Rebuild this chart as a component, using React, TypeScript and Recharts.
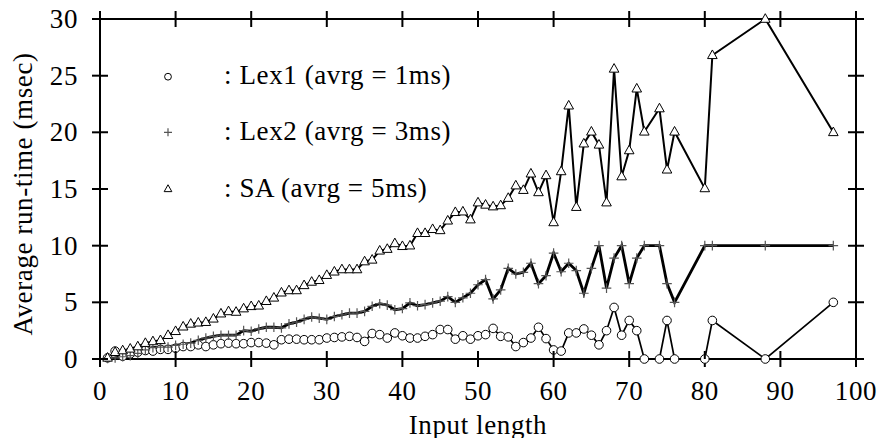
import React from 'react';
import { LineChart, Line, XAxis, YAxis, Label, ReferenceLine } from 'recharts';

const inputLength = [
  1, 2, 3, 4, 5, 6, 7, 8, 9, 10, 11, 12, 13, 14, 15, 16, 17, 18, 19, 20,
  21, 22, 23, 24, 25, 26, 27, 28, 29, 30, 31, 32, 33, 34, 35, 36, 37, 38, 39, 40,
  41, 42, 43, 44, 45, 46, 47, 48, 49, 50, 51, 52, 53, 54, 55, 56, 57, 58, 59, 60,
  61, 62, 63, 64, 65, 66, 67, 68, 69, 70, 71, 72, 74, 75, 76, 80, 81, 88, 97,
];

const lex1 = [
  0.1, 0.7, 0.25, 0.45, 0.6, 0.75, 0.7, 0.85, 0.85, 0.95, 1.1, 1.1, 1.25, 1.1, 1.25, 1.35, 1.4, 1.35, 1.35, 1.45,
  1.45, 1.4, 1.25, 1.7, 1.75, 1.75, 1.7, 1.7, 1.7, 1.85, 1.9, 1.95, 2.0, 1.9, 1.55, 2.25, 2.15, 1.85, 2.3, 2.05,
  1.85, 1.85, 2.0, 2.15, 2.6, 2.6, 1.75, 2.05, 1.75, 2.05, 2.15, 2.7, 2.0, 1.95, 1.1, 1.45, 1.85, 2.8, 1.8, 0.8,
  0.7, 2.3, 2.3, 2.65, 2.1, 1.25, 2.5, 4.55, 2.1, 3.4, 2.5, 0, 0, 3.4, 0, 0, 3.4, 0, 5,
];

const lex2 = [
  0.05, 0.1, 0.2, 0.3, 0.5, 0.8, 1.0, 1.05, 1.05, 1.2, 1.3, 1.4, 1.65, 1.85, 2.0, 2.1, 2.1, 2.1, 2.5, 2.45,
  2.65, 2.8, 2.8, 2.75, 3.1, 3.25, 3.5, 3.7, 3.6, 3.5, 3.75, 3.9, 4.05, 4.05, 4.2, 4.65, 4.88, 4.75, 4.35, 4.45,
  4.95, 4.7, 4.8, 4.95, 5.1, 5.5, 5.0, 5.4, 5.8, 6.55, 7.0, 5.3, 6.1, 8.0, 7.5, 7.65, 8.45, 6.65, 7.35, 9.35,
  7.7, 8.45, 7.8, 5.8, 8.0, 10, 6.25, 8.9, 10, 6.65, 8.9, 10, 10, 6.65, 5.0, 10, 10, 10, 10,
];

const sa = [
  0.1, 0.6, 0.75, 0.9, 1.1, 1.4, 1.55, 1.65, 2.1, 2.45, 2.85, 3.1, 3.2, 3.25, 3.55, 4.0, 4.2, 4.15, 4.45, 4.65,
  4.7, 5.1, 5.4, 5.85, 6.05, 6.05, 6.5, 6.8, 6.95, 7.4, 7.7, 7.9, 7.9, 7.9, 8.6, 8.75, 9.55, 9.7, 10.2, 9.95,
  10.0, 11.1, 11.1, 11.45, 11.35, 12.2, 12.95, 13.0, 12.3, 13.8, 13.6, 13.45, 13.55, 14.2, 15.3, 14.9, 16.35, 14.7, 16.2, 12.05,
  16.55, 22.35, 13.4, 19.0, 20.05, 18.9, 13.8, 25.6, 16.1, 18.4, 23.85, 20.05, 22.1, 16.7, 20.05, 15.05, 26.8, 30, 20,
];

const xTicks = [0, 10, 20, 30, 40, 50, 60, 70, 80, 90, 100];
const yTicks = [0, 5, 10, 15, 20, 25, 30];
const xMax = 100;
const yMax = 30;

const legendLabels = [': Lex1 (avrg = 1ms)', ': Lex2 (avrg = 3ms)', ': SA (avrg = 5ms)'];

const data = inputLength.map((x, i) => ({ x, lex1: lex1[i], lex2: lex2[i], sa: sa[i] }));

const W = 877;
const H = 438;
const MARGIN = { top: 19, right: 21, left: 40, bottom: 0 };
const Y_AXIS_W = 60;
const X_AXIS_H = 79;
const PLOT_W = W - MARGIN.left - MARGIN.right - Y_AXIS_W;
const PLOT_H = H - MARGIN.top - MARGIN.bottom - X_AXIS_H;

const FONT = '"Liberation Serif", "DejaVu Serif", serif';
const FS = 27;
const LS = 0.6;
const TICK = 8;

const CircleMark = ({ cx, cy, r = 4.3 }: any) => (
  <circle cx={cx} cy={cy} r={r} fill="#fff" stroke="#000" strokeWidth={1} />
);
const PlusMark = ({ cx, cy, s = 4.8 }: any) => (
  <path d={`M${cx - s},${cy}H${cx + s}M${cx},${cy - s}V${cy + s}`} stroke="#555" strokeWidth={1.2} fill="none" />
);
const TriMark = ({ cx, cy, s = 1 }: any) => (
  <polygon
    points={`${cx},${cy - 5.3 * s} ${cx - 4.8 * s},${cy + 3.3 * s} ${cx + 4.8 * s},${cy + 3.3 * s}`}
    fill="#fff"
    stroke="#000"
    strokeWidth={1}
  />
);

// The built-in tickLine draws the outward half of each tick; the custom tick adds the inward half,
// the mirrored tick on the opposite border, and the label.
const BottomTick = ({ x, y, payload }: any) => {
  const axisY = y - TICK;
  const topY = axisY - PLOT_H;
  return (
    <g>
      <path
        d={`M${x},${axisY}V${axisY - TICK}M${x},${topY - TICK}V${topY + TICK}`}
        stroke="#000"
        strokeWidth={2}
        fill="none"
      />
      <text x={x} y={y + 33} textAnchor="middle" fontFamily={FONT} fontSize={FS} letterSpacing={LS} fill="#000">
        {payload.value}
      </text>
    </g>
  );
};
const LeftTick = ({ x, y, payload }: any) => {
  const axisX = x + TICK;
  const rightX = axisX + PLOT_W;
  return (
    <g>
      <path
        d={`M${axisX},${y}H${axisX + TICK}M${rightX - TICK},${y}H${rightX + TICK}`}
        stroke="#000"
        strokeWidth={2}
        fill="none"
      />
      <text x={x - 14} y={y + 9} textAnchor="end" fontFamily={FONT} fontSize={FS} letterSpacing={LS} fill="#000">
        {payload.value}
      </text>
    </g>
  );
};

const Legend = () => {
  const rows = [76.7, 132.3, 189];
  return (
    <svg width={W} height={H} style={{ position: 'absolute', left: 0, top: 0, pointerEvents: 'none' }}>
      <CircleMark cx={168} cy={rows[0]} r={3.4} />
      <PlusMark cx={168} cy={rows[1]} s={4} />
      <TriMark cx={168} cy={rows[2]} s={0.8} />
      {legendLabels.map((lab, i) => (
        <text key={lab} x={224} y={rows[i] + 7.5} fontFamily={FONT} fontSize={FS} letterSpacing={LS} fill="#000">
          {lab}
        </text>
      ))}
    </svg>
  );
};

const tickLineStyle = { stroke: '#000', strokeWidth: 2 };
const axisLineStyle = { stroke: '#000', strokeWidth: 2 };

export default function App() {
  return (
    <div style={{ position: 'absolute', left: 0, top: 0, width: W, height: H, background: '#fff' }}>
      <LineChart width={W} height={H} data={data} margin={MARGIN}>
        <XAxis
          dataKey="x"
          type="number"
          domain={[0, xMax]}
          ticks={xTicks}
          interval={0}
          height={X_AXIS_H}
          tickSize={TICK}
          tickMargin={0}
          tickLine={tickLineStyle}
          axisLine={axisLineStyle}
          tick={<BottomTick />}
        >
          <Label
            content={({ viewBox }: any) => (
              <text
                x={viewBox.x + viewBox.width / 2}
                y={viewBox.y + 75}
                textAnchor="middle"
                fontFamily={FONT}
                fontSize={FS}
                letterSpacing={LS}
                fill="#000"
              >
                Input length
              </text>
            )}
          />
        </XAxis>
        <YAxis
          type="number"
          domain={[0, yMax]}
          ticks={yTicks}
          interval={0}
          width={Y_AXIS_W}
          tickSize={TICK}
          tickMargin={0}
          tickLine={tickLineStyle}
          axisLine={axisLineStyle}
          tick={<LeftTick />}
        >
          <Label
            content={({ viewBox }: any) => {
              const cx = viewBox.x - 8.5;
              const cy = viewBox.y + viewBox.height / 2 + 5;
              return (
                <text
                  x={cx}
                  y={cy}
                  transform={`rotate(-90, ${cx}, ${cy})`}
                  textAnchor="middle"
                  fontFamily={FONT}
                  fontSize={FS}
                  letterSpacing={LS}
                  fill="#000"
                >
                  Average run-time (msec)
                </text>
              );
            }}
          />
        </YAxis>
        <ReferenceLine y={yMax} stroke="#000" strokeWidth={2} />
        <ReferenceLine x={xMax} stroke="#000" strokeWidth={2} />
        <Line
          dataKey="lex1"
          stroke="#000"
          strokeWidth={1.7}
          isAnimationActive={false}
          dot={(p: any) => <CircleMark key={`c${p.index}`} cx={p.cx} cy={p.cy} />}
          activeDot={false}
        />
        <Line
          dataKey="lex2"
          stroke="#000"
          strokeWidth={2.8}
          isAnimationActive={false}
          dot={(p: any) => <PlusMark key={`p${p.index}`} cx={p.cx} cy={p.cy} />}
          activeDot={false}
        />
        <Line
          dataKey="sa"
          stroke="#000"
          strokeWidth={2}
          isAnimationActive={false}
          dot={(p: any) => <TriMark key={`t${p.index}`} cx={p.cx} cy={p.cy} />}
          activeDot={false}
        />
      </LineChart>
      <Legend />
    </div>
  );
}
